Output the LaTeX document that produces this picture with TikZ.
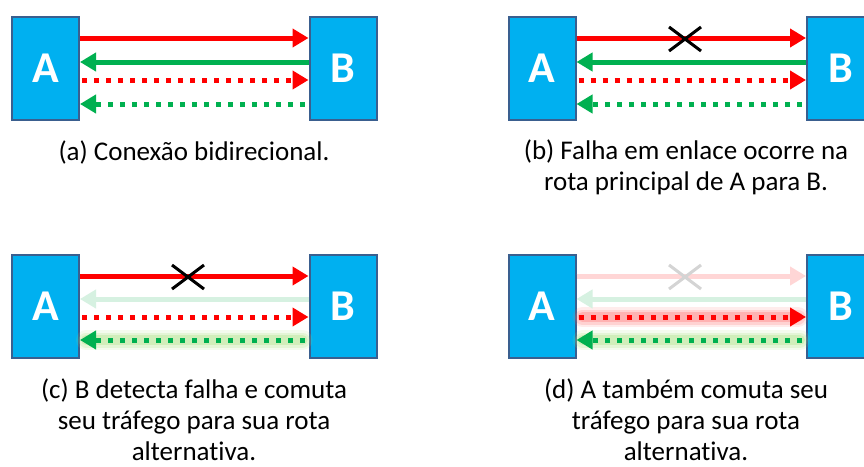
\documentclass[tikz,border=0pt]{standalone}
\usepackage{fontspec}
\setmainfont{Carlito}[Ligatures={NoCommon}]
\usetikzlibrary{arrows.meta}
\definecolor{boxfill}{HTML}{00B0F0}
\definecolor{boxline}{HTML}{3A5F8F}
\definecolor{myred}{HTML}{FF0000}
\definecolor{mygreen}{HTML}{00B050}
\definecolor{fadered}{HTML}{FFD6D6}
\definecolor{fadegreen}{HTML}{D6F1E1}
\definecolor{fadex}{HTML}{D4D4D4}
\definecolor{glowgreen}{HTML}{A8E07A}
\definecolor{glowred}{HTML}{FF6A6A}
\tikzset{
  nodebox/.style={draw=boxline, line width=2pt, fill=boxfill, minimum width=67pt, minimum height=103pt, inner sep=0pt,
    text=white, font=\fontsize{44}{44}\selectfont\bfseries},
  solidarr/.style={line width=5pt, -{Triangle[length=16pt,width=18pt]}},
  dotarr/.style={line width=5pt, dash pattern=on 5pt off 7pt, -{Triangle[length=16pt,width=18pt,sep=0pt]}},
  crossline/.style={line width=3pt},
  glow/.style={line cap=round, draw=#1},
  caption/.style={align=center, font=\fontsize{27}{31}\selectfont, inner sep=0pt}
}
\newcommand\glowpath[3]{% color, start, end
  \draw[glow=#1, line width=20pt, opacity=0.12] #2 -- #3;
  \draw[glow=#1, line width=15pt, opacity=0.2] #2 -- #3;
  \draw[glow=#1, line width=10pt, opacity=0.3] #2 -- #3;
}
\begin{document}
\begin{tikzpicture}[x=1pt,y=-1pt]
\clip (0,0) rectangle (864,466);
\fill[white] (0,0) rectangle (864,466);

% ---------- panel (a)
\node[nodebox] (A1) at (45.5,68.5) {A};
\node[nodebox] (B1) at (343,68.5) {B};
\draw[solidarr, myred] ([yshift=-22pt]A1.north east) -- ([yshift=-22pt]B1.north west);
\draw[solidarr, mygreen] ([yshift=-46pt]B1.north west) -- ([yshift=-46pt]A1.north east);
\draw[dotarr, myred] ([yshift=-64pt,xshift=2pt]A1.north east) -- ([yshift=-64pt]B1.north west);
\draw[dotarr, mygreen] ([yshift=-88pt,xshift=-4pt]B1.north west) -- ([yshift=-88pt]A1.north east);
\node[caption] (cap1) at (194,152) {(a) Conexão bidirecional.};

% ---------- panel (b)
\node[nodebox] (A2) at (542,68.5) {A};
\node[nodebox] (B2) at (840.5,68.5) {B};
\draw[solidarr, myred] ([yshift=-22pt]A2.north east) -- ([yshift=-22pt]B2.north west);
\draw[solidarr, mygreen] ([yshift=-46pt]B2.north west) -- ([yshift=-46pt]A2.north east);
\draw[dotarr, myred] ([yshift=-64pt,xshift=2pt]A2.north east) -- ([yshift=-64pt]B2.north west);
\draw[dotarr, mygreen] ([yshift=-88pt,xshift=-4pt]B2.north west) -- ([yshift=-88pt]A2.north east);
\coordinate (X2) at (685,39);
\draw[crossline] ([shift={(-16,-12)}]X2) -- ([shift={(16,12)}]X2);
\draw[crossline] ([shift={(-16,12)}]X2) -- ([shift={(16,-12)}]X2);
\node[caption] (cap2) at (686,167) {(b) Falha em enlace ocorre na\\rota principal de A para B.};

% ---------- panel (c)
\node[nodebox] (A3) at (45.5,306.5) {A};
\node[nodebox] (B3) at (343,306.5) {B};
\glowpath{glowgreen}{([yshift=-86pt,xshift=6pt]A3.north east)}{([yshift=-86pt,xshift=-6pt]B3.north west)}
\draw[solidarr, myred] ([yshift=-22pt]A3.north east) -- ([yshift=-22pt]B3.north west);
\draw[solidarr, fadegreen] ([yshift=-45pt]B3.north west) -- ([yshift=-45pt]A3.north east);
\draw[dotarr, myred] ([yshift=-63pt,xshift=2pt]A3.north east) -- ([yshift=-63pt]B3.north west);
\draw[dotarr, mygreen] ([yshift=-86pt,xshift=-4pt]B3.north west) -- ([yshift=-86pt]A3.north east);
\coordinate (X3) at (188,277);
\draw[crossline] ([shift={(-16,-12)}]X3) -- ([shift={(16,12)}]X3);
\draw[crossline] ([shift={(-16,12)}]X3) -- ([shift={(16,-12)}]X3);
\node[caption] (cap3) at (194,420) {(c) B detecta falha e comuta\\seu tráfego para sua rota\\alternativa.};

% ---------- panel (d)
\node[nodebox] (A4) at (542,306.5) {A};
\node[nodebox] (B4) at (840.5,306.5) {B};
\glowpath{glowred}{([yshift=-63pt,xshift=6pt]A4.north east)}{([yshift=-63pt,xshift=-8pt]B4.north west)}
\glowpath{glowgreen}{([yshift=-86pt,xshift=6pt]A4.north east)}{([yshift=-86pt,xshift=-6pt]B4.north west)}
\draw[solidarr, fadered] ([yshift=-22pt]A4.north east) -- ([yshift=-22pt]B4.north west);
\draw[solidarr, fadegreen] ([yshift=-45pt]B4.north west) -- ([yshift=-45pt]A4.north east);
\draw[dotarr, myred] ([yshift=-63pt,xshift=2pt]A4.north east) -- ([yshift=-63pt]B4.north west);
\draw[dotarr, mygreen] ([yshift=-86pt,xshift=-4pt]B4.north west) -- ([yshift=-86pt]A4.north east);
\coordinate (X4) at (685,277);
\draw[crossline, fadex] ([shift={(-16,-12)}]X4) -- ([shift={(16,12)}]X4);
\draw[crossline, fadex] ([shift={(-16,12)}]X4) -- ([shift={(16,-12)}]X4);
\node[caption] (cap4) at (686,420) {(d) A também comuta seu\\tráfego para sua rota\\alternativa.};
\end{tikzpicture}
\end{document}
